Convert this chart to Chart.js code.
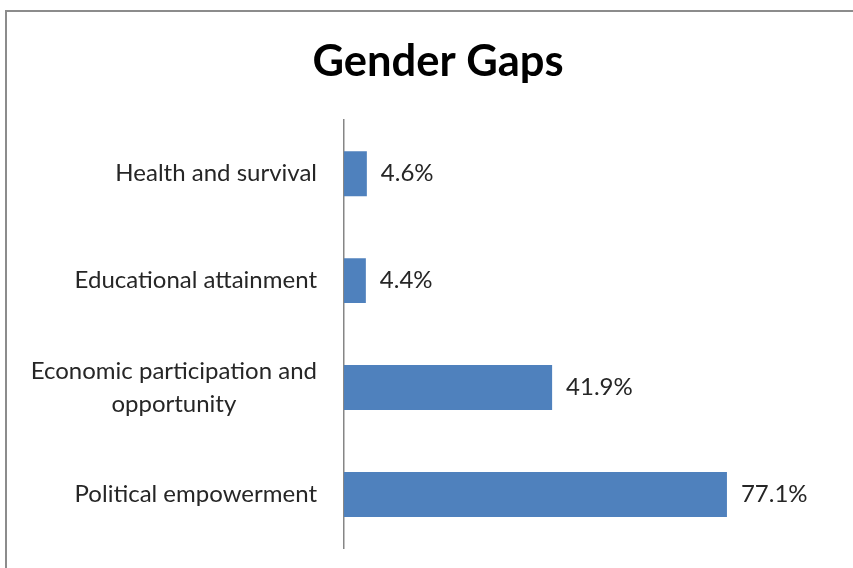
<!DOCTYPE html>
<html>
<head>
<meta charset="utf-8">
<script src="https://cdn.jsdelivr.net/npm/chart.js@4/dist/chart.umd.min.js"></script>
<style>
    html, body { margin: 0; padding: 0; background: #fff; overflow: hidden; }
    /* marco gris del gráfico, cortado a la derecha y abajo */
    #frame {
        position: absolute;
        left: 5px;
        top: 10px;
        border: 2px solid #8c8c8c;
        width: 862px;
        height: 570px;
    }
    canvas { display: block; }
</style>
</head>
<body>
<div id="frame"><canvas id="gaps" width="862" height="570"></canvas></div>
<script>
// Datos del gráfico
const categorias = [
    ['Health and survival'],
    ['Educational attainment'],
    ['Economic participation and', 'opportunity'],
    ['Political empowerment']
];
const brechas = [4.6, 4.4, 41.9, 77.1];
const etiquetasValor = ['4.6%', '4.4%', '41.9%', '77.1%'];

const fuente = 'Lato, "Open Sans", sans-serif';
const colorTexto = '#262626';

// Dibuja los nombres de categoría (multilínea centrada) y los valores al final de cada barra
const etiquetasPlugin = {
    id: 'etiquetas',
    afterDatasetsDraw(chart) {
        const ctx = chart.ctx;
        const y = chart.scales.y;
        const area = chart.chartArea;
        ctx.save();
        ctx.font = '24px ' + fuente;
        ctx.fillStyle = colorTexto;
        ctx.textBaseline = 'middle';

        // nombres de categoría
        const derecha = area.left - 27;
        const alto = 33;
        categorias.forEach((lineas, i) => {
            const cy = y.getPixelForValue(i);
            let maxW = 0;
            lineas.forEach(l => { maxW = Math.max(maxW, ctx.measureText(l).width); });
            const cx = derecha - maxW / 2;
            ctx.textAlign = 'center';
            lineas.forEach((l, j) => {
                ctx.fillText(l, cx, cy + (j - (lineas.length - 1) / 2) * alto);
            });
        });

        // valores
        ctx.textAlign = 'left';
        chart.getDatasetMeta(0).data.forEach((barra, i) => {
            ctx.fillText(etiquetasValor[i], barra.x + 14, barra.y);
        });
        ctx.restore();
    }
};

const ctx = document.getElementById('gaps').getContext('2d');
const grafico = new Chart(ctx, {
    type: 'bar',
    data: {
        labels: categorias,
        datasets: [{
            data: brechas,
            backgroundColor: '#4f81bd',
            borderWidth: 0,
            barPercentage: 0.84,
            categoryPercentage: 0.5
        }]
    },
    options: {
        indexAxis: 'y',
        responsive: false,
        animation: false,
        layout: {
            padding: { left: 0, right: 0, top: 0, bottom: 34 }
        },
        plugins: {
            legend: { display: false },
            tooltip: { enabled: false },
            title: {
                display: true,
                text: 'Gender Gaps',
                color: '#000',
                font: { family: fuente, size: 43.5, weight: 'bold' },
                padding: { top: 24, bottom: 32 }
            }
        },
        scales: {
            x: {
                display: false,
                min: 0,
                max: 105.7
            },
            y: {
                grid: { display: false, drawTicks: false },
                border: { display: true, color: '#868686', width: 1.5 },
                ticks: { display: false },
                afterFit(scale) {
                    scale.width = 337; // deja espacio para los nombres
                }
            }
        }
    },
    plugins: [etiquetasPlugin]
});
</script>
</body>
</html>
